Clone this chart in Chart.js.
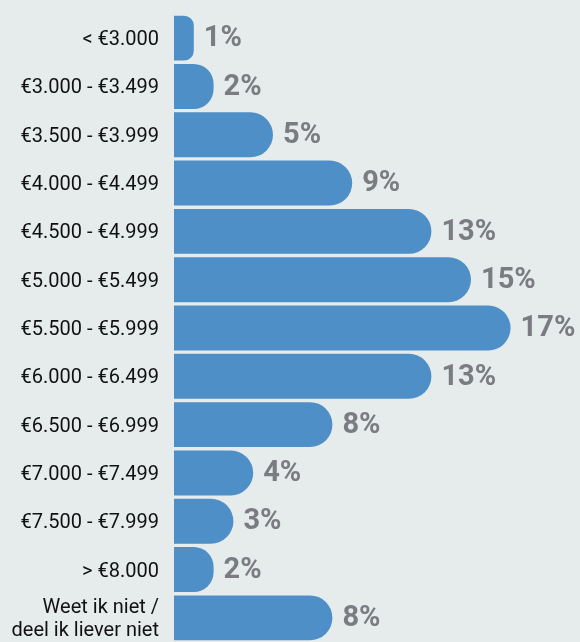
<!DOCTYPE html>
<html><head><meta charset="utf-8">
<script src="https://cdn.jsdelivr.net/npm/chart.js@4/dist/chart.umd.min.js"></script>
<style>html,body{margin:0;padding:0;background:#e6ebeb;}#wrap{width:580px;height:642px;}</style>
</head><body><div id="wrap"><canvas id="c"></canvas></div>
<script>
const categories = ["< €3.000","€3.000 - €3.499","€3.500 - €3.999","€4.000 - €4.499","€4.500 - €4.999","€5.000 - €5.499","€5.500 - €5.999","€6.000 - €6.499","€6.500 - €6.999","€7.000 - €7.499","€7.500 - €7.999","> €8.000",["Weet ik niet /","deel ik liever niet"]];
const values = [1,2,5,9,13,15,17,13,8,4,3,2,8];
const valueLabels = values.map(v => v + "%");

const labelPlugin = {
  id: 'vlabels',
  afterDatasetsDraw(chart) {
    const ctx = chart.ctx;
    const meta = chart.getDatasetMeta(0);
    ctx.save();
    ctx.font = 'bold 29px Roboto';
    ctx.fillStyle = '#7b7c82';
    ctx.textAlign = 'left';
    ctx.textBaseline = 'middle';
    meta.data.forEach((bar, i) => {
      ctx.fillText(valueLabels[i], bar.x + 10, bar.y + 1);
    });
    ctx.restore();
  }
};

new Chart(document.getElementById('c'), {
  type: 'bar',
  data: { labels: categories, datasets: [{ data: values, backgroundColor: '#4f8fc7', borderSkipped: 'start', borderRadius: 23, barPercentage: 1, categoryPercentage: 0.93 }] },
  options: {
    indexAxis: 'y', responsive: true, maintainAspectRatio: false, animation: false,
    layout: { padding: { top: 14, right: 10, bottom: 0, left: 0 } },
    plugins: { legend: { display: false }, tooltip: { enabled: false } },
    scales: {
      x: { display: false, min: 0, max: 20 },
      y: {
        grid: { display: false, drawTicks: false }, border: { display: false },
        ticks: { color: '#111', autoSkip: false, labelOffset: 2, font: { family: 'Roboto', size: 20, lineHeight: 1.15 }, padding: 15 },
        afterFit(s) { s.width = 174; s.paddingTop = 0; s.paddingBottom = 0; }
      }
    }
  },
  plugins: [labelPlugin]
});
</script></body></html>
